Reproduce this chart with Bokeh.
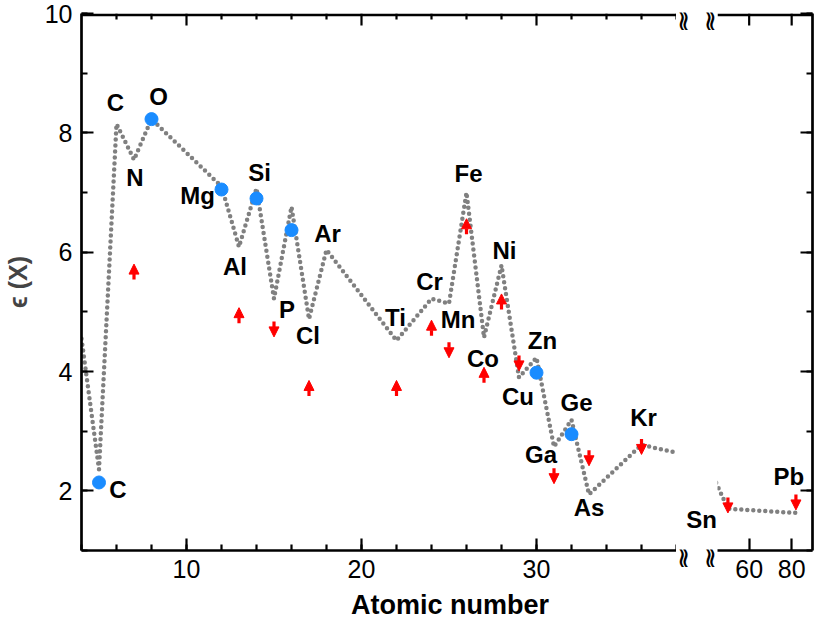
from bokeh.plotting import figure
from bokeh.layouts import row, column
from bokeh.models import (ColumnDataSource, Range1d, LinearAxis, SingleIntervalTicker,
                          FixedTicker, Arrow, NormalHead, LabelSet, Div)
from bokeh.core.properties import value
from bokeh.embed import file_html
from bokeh.resources import INLINE

# ---------------- data ----------------
line_z = [4, 5, 6, 7, 8, 12, 13, 14, 15, 16, 17, 18, 22, 24, 25, 26, 27, 28, 29, 30,
          31, 32, 33, 36, 38, 50, 82]
line_eps = [4.55, 2.36, 8.15, 7.55, 8.23, 7.10, 6.09, 7.07, 5.22, 6.76, 4.88, 6.04, 4.52,
            5.22, 5.14, 7.00, 4.57, 5.78, 3.90, 4.23, 2.74, 3.19, 1.94, 2.77, 2.64, 1.70, 1.63]

dot_z = [5, 8, 12, 14, 16, 30, 32]
dot_eps = [2.14, 8.23, 7.05, 6.90, 6.37, 3.98, 2.95]

up_z = [7, 13, 17, 22, 24, 26, 27, 28]
up_eps = [5.67, 4.94, 3.72, 3.72, 4.73, 6.43, 3.94, 5.17]
down_z = [15, 25, 29, 31, 33, 36, 50, 82]
down_eps = [4.71, 4.36, 4.14, 2.25, 2.55, 2.74, 1.76, 1.81]

label_text = ["C", "N", "O", "Mg", "Al", "Si", "P", "Cl", "Ar", "Ti", "Cr", "Mn", "Fe", "Co",
              "Ni", "Cu", "Zn", "Ga", "Ge", "As", "Kr", "C", "Pb"]
label_z = [6, 7, 8, 12, 13, 14, 15, 17, 18, 22, 24, 25, 26, 27, 28, 29, 30, 31, 32, 33, 36,
           5, 82]
gap_label = "Sn"          # label of Z = 50, it sits in the axis break
gap_label_z = 50

y_tick_interval = 2
x_tick_interval = 10
x_minor_step = 2
right_x_ticks = [60, 80]
x_title = "Atomic number"
y_title = "\u03f5 (X)"

# ---------------- layout / style ----------------
label_dx = [-1, 1, 7, -24, -4, 3, 13, -1, 1, -1, -2, 9, 2, -1, 3, -1, 6, -13, 5, 0, 2, 19, -7]
label_dy = [-21, 18, -23, 9, 20, -16, 11, 17, -16, -23, -17, 16, -19, 21, -15, 19, -17, 8, -17,
            13, -27, 20, -36]   # screen px, positive = down

FONT = "Liberation Sans"
GRAY = "#808080"
BLUE = "#1a8cff"
RED = "#ff0000"

H = 590
TOP, BOTTOM = 13, 40
L_W, L_LEFT = 676, 76          # page: frame 84..684
G_W = 41                       # gap strip: page 684..725
R_W, R_RIGHT = 98, 3           # page: frame 725..820
L_XR = (4, 38)
R_XR = (45.1, 89.8)
Y_R = (1, 10)
ARROW_H = 0.13
PPU = (H - TOP - BOTTOM) / (Y_R[1] - Y_R[0])   # pixels per y unit
AX_W, TICK_W, MAJ_LEN, MIN_LEN = 2.7, 2.2, 12, 6

eps_of = dict(zip(line_z, line_eps))


def style_axis(ax, labels):
    ax.axis_line_width = AX_W
    ax.axis_line_color = "black"
    ax.major_tick_in = MAJ_LEN
    ax.major_tick_out = 0
    ax.minor_tick_in = MIN_LEN
    ax.minor_tick_out = 0
    ax.major_tick_line_width = TICK_W
    ax.minor_tick_line_width = TICK_W
    ax.major_label_text_font = FONT
    ax.major_label_text_color = "black"
    if labels:
        ax.major_label_text_font_size = "25px"
        ax.major_label_standoff = 9
    else:
        ax.major_label_text_font_size = "0px"
        ax.major_label_standoff = 0


def make_fig(width, left, right, xr):
    p = figure(width=width, height=H, x_range=Range1d(*xr), y_range=Range1d(*Y_R),
               output_backend="svg", toolbar_location=None, frame_align=False,
               min_border_left=left, min_border_right=right,
               min_border_top=TOP, min_border_bottom=BOTTOM,
               x_axis_location=None, y_axis_location=None, outline_line_color=None)
    p.xgrid.visible = False
    p.ygrid.visible = False
    return p


def top_edge(p, xr, major, minor):
    """Top frame line with inward ticks, drawn just inside the frame."""
    ytop = Y_R[1]
    yl = ytop - (AX_W / 2) / PPU
    p.segment(x0=[xr[0]], y0=[yl], x1=[xr[1]], y1=[yl], line_color="black", line_width=AX_W)
    if major:
        p.segment(x0=major, y0=[ytop] * len(major), x1=major,
                  y1=[ytop - MAJ_LEN / PPU] * len(major), line_color="black", line_width=TICK_W)
    if minor:
        p.segment(x0=minor, y0=[ytop] * len(minor), x1=minor,
                  y1=[ytop - MIN_LEN / PPU] * len(minor), line_color="black", line_width=TICK_W)


def add_data(p, zmin, zmax):
    p.line(line_z, line_eps, line_color=GRAY, line_width=4.5, line_dash="0 6", line_cap="round")
    dz = [z for z in dot_z if zmin <= z <= zmax]
    de = [e for z, e in zip(dot_z, dot_eps) if zmin <= z <= zmax]
    p.scatter(dz, de, size=13, fill_color=BLUE, line_color=BLUE)
    for zs, es, sign in ((up_z, up_eps, 1), (down_z, down_eps, -1)):
        xs = [z for z in zs if zmin <= z <= zmax]
        ev = [e for z, e in zip(zs, es) if zmin <= z <= zmax]
        if not xs:
            continue
        src = ColumnDataSource(dict(x=xs, y0=[e - sign * ARROW_H for e in ev],
                                    y1=[e + sign * ARROW_H for e in ev]))
        p.add_layout(Arrow(end=NormalHead(size=10, fill_color=RED, line_color=RED, line_width=1),
                           x_start="x", y_start="y0", x_end="x", y_end="y1", source=src,
                           line_color=RED, line_width=3.2))
    idx = [i for i, z in enumerate(label_z) if zmin <= z <= zmax]
    src = ColumnDataSource(dict(x=[label_z[i] for i in idx],
                                y=[eps_of[label_z[i]] for i in idx],
                                t=[label_text[i] for i in idx],
                                xo=[label_dx[i] for i in idx],
                                yo=[-label_dy[i] for i in idx]))
    p.add_layout(LabelSet(x="x", y="y", text="t", x_offset="xo", y_offset="yo", source=src,
                          text_align="center", text_baseline="middle",
                          text_font=value(FONT), text_font_style="bold",
                          text_font_size="24px", text_color="black"))


# ---- left panel ----
p1 = make_fig(L_W, L_LEFT, 0, L_XR)
ax = LinearAxis(ticker=SingleIntervalTicker(interval=x_tick_interval,
                                            num_minor_ticks=x_tick_interval // x_minor_step))
style_axis(ax, True)
p1.add_layout(ax, "below")
ax = LinearAxis(ticker=SingleIntervalTicker(interval=y_tick_interval, num_minor_ticks=2))
style_axis(ax, True)
ax.axis_label = y_title
ax.axis_label_text_font = FONT
ax.axis_label_text_font_style = "bold"
ax.axis_label_text_font_size = "25px"
ax.axis_label_standoff = 10
p1.add_layout(ax, "left")
add_data(p1, 0, 40)
l_major = list(range(x_tick_interval, L_XR[1] + 1, x_tick_interval))
l_minor = [x for x in range(L_XR[0] + x_minor_step, L_XR[1] + 1, x_minor_step)
           if x % x_tick_interval]
top_edge(p1, L_XR, l_major, l_minor)

# ---- gap strip: axis-break marks and the Sn label (x in strip pixels) ----
pg = make_fig(G_W, 0, 0, (0, G_W))
brk_x = [3, 9, 32, 38]
for place, standoff in (("above", -25), ("below", -16)):
    bax = LinearAxis(ticker=FixedTicker(ticks=brk_x))
    bax.axis_line_color = None
    bax.major_tick_line_color = None
    bax.minor_tick_line_color = None
    bax.major_label_overrides = {x: "\u2240" for x in brk_x}
    bax.major_label_text_font = "DejaVu Sans"
    bax.major_label_text_font_size = "28px"
    bax.major_label_text_color = "black"
    bax.major_label_standoff = standoff
    pg.add_layout(bax, place)
pg.text(x=[25.0], y=[eps_of[gap_label_z] - 11 / PPU], text=[gap_label], text_font=value(FONT),
        text_font_style="bold", text_font_size="24px", text_align="center",
        text_baseline="middle", text_color="black")

# ---- right panel ----
p2 = make_fig(R_W, 0, R_RIGHT, R_XR)
ax = LinearAxis(ticker=FixedTicker(ticks=right_x_ticks))
style_axis(ax, True)
p2.add_layout(ax, "below")
ax = LinearAxis(ticker=SingleIntervalTicker(interval=y_tick_interval, num_minor_ticks=2))
style_axis(ax, False)
p2.add_layout(ax, "right")
add_data(p2, 40, 100)
top_edge(p2, R_XR, right_x_ticks, [])

# ---- x-axis title, centred under both panels ----
title = Div(text=('<div style="box-sizing:border-box; width:815px; padding-left:351px; '
                  'text-align:left; font-family:\'Liberation Sans\'; font-weight:bold; '
                  'font-size:27px; line-height:30px; white-space:nowrap; color:black">'
                  + x_title + '</div>'),
            width=815, height=30, margin=(0, 0, 0, 0))

layout = column(row(p1, pg, p2, spacing=0), title, spacing=0)
open("out.html", "w").write(file_html(layout, INLINE))
